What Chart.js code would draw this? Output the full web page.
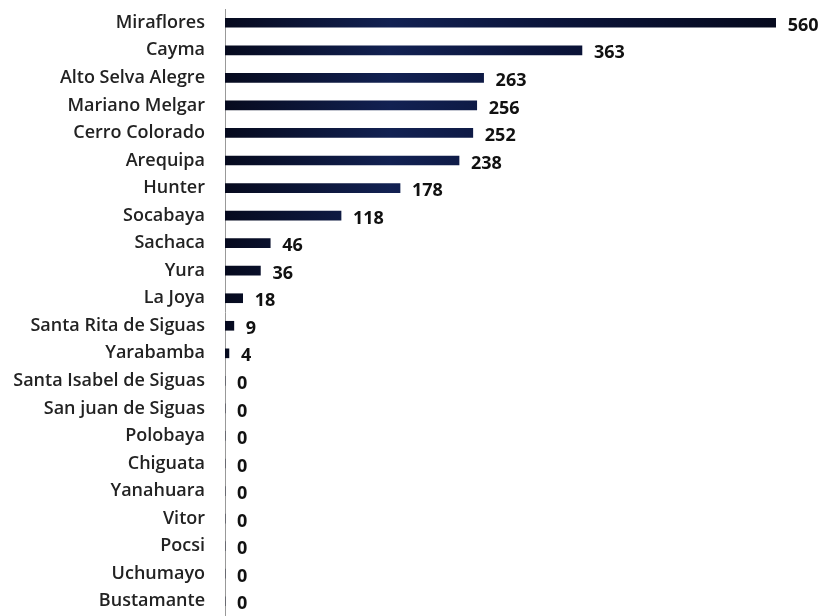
<!DOCTYPE html>
<html>
<head>
<meta charset="utf-8">
<script src="https://cdn.jsdelivr.net/npm/chart.js@4.4.1/dist/chart.umd.min.js"></script>
<style>
  html, body { margin: 0; padding: 0; background: #ffffff; }
</style>
</head>
<body>
<canvas id="c" width="827" height="616" style="display:block;width:827px;height:616px"></canvas>
<script>
const categories = [
  "Miraflores", "Cayma", "Alto Selva Alegre", "Mariano Melgar", "Cerro Colorado",
  "Arequipa", "Hunter", "Socabaya", "Sachaca", "Yura", "La Joya",
  "Santa Rita de Siguas", "Yarabamba", "Santa Isabel de Siguas", "San juan de Siguas",
  "Polobaya", "Chiguata", "Yanahuara", "Vitor", "Pocsi", "Uchumayo", "Bustamante"
];
const values = [560, 363, 263, 256, 252, 238, 178, 118, 46, 36, 18, 9, 4, 0, 0, 0, 0, 0, 0, 0, 0, 0];

const valueLabels = {
  id: 'valueLabels',
  afterDatasetsDraw(chart) {
    const ctx = chart.ctx;
    const meta = chart.getDatasetMeta(0);
    ctx.save();
    ctx.font = 'bold 18px "Open Sans", sans-serif';
    ctx.fillStyle = '#111111';
    ctx.textBaseline = 'middle';
    ctx.textAlign = 'left';
    meta.data.forEach((bar, i) => {
      ctx.fillText(String(values[i]), bar.x + 12, bar.y + 3);
    });
    ctx.restore();
  }
};

const ctx = document.getElementById('c').getContext('2d');
new Chart(ctx, {
  type: 'bar',
  data: {
    labels: categories,
    datasets: [{
      data: values,
      backgroundColor: (c) => {
        const area = c.chart.chartArea;
        if (!area) return '#0d1638';
        const g = c.chart.ctx.createLinearGradient(area.left, 0, area.left + 551, 0);
        g.addColorStop(0, '#060a1e');
        g.addColorStop(0.3, '#122152');
        g.addColorStop(0.6, '#0b143a');
        g.addColorStop(1, '#060a1e');
        return g;
      },
      borderWidth: 0,
      barThickness: 9
    }]
  },
  options: {
    indexAxis: 'y',
    responsive: false,
    animation: false,
    layout: { padding: { top: 9, right: 12, bottom: 1, left: 0 } },
    plugins: { legend: { display: false }, tooltip: { enabled: false } },
    scales: {
      x: {
        min: 0, max: 600,
        display: false,
        grid: { display: false }
      },
      y: {
        afterFit(scale) { scale.width = 225; },
        grid: {
          display: true, drawOnChartArea: false, drawTicks: true,
          tickLength: 20, color: 'rgba(0,0,0,0)'
        },
        border: { display: true, color: '#999999', width: 1 },
        ticks: {
          padding: 0,
          autoSkip: false,
          color: '#222222',
          font: { family: '"Open Sans", sans-serif', size: 18, weight: '600', lineHeight: 0.1 }
        }
      }
    }
  },
  plugins: [valueLabels]
});
</script>
</body>
</html>
